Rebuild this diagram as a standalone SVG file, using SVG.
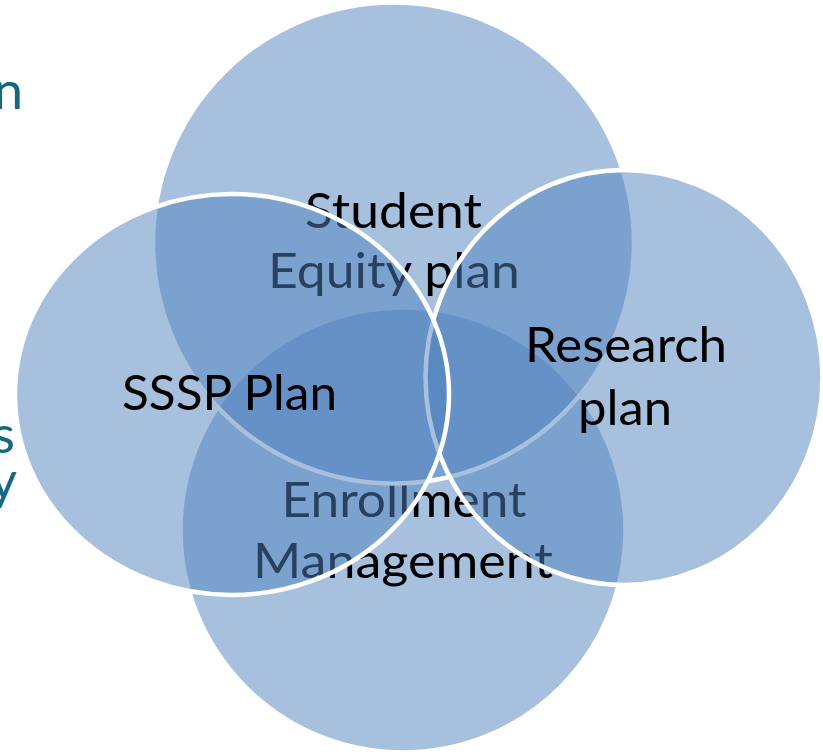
<svg xmlns="http://www.w3.org/2000/svg" width="823" height="754" viewBox="0 0 823 754">
  <style>
    .c { fill: #4F81BD; fill-opacity: 0.5; stroke: #FFFFFF; stroke-width: 4.5; }
    .t { font-family: Lato, "Open Sans", "Liberation Sans", sans-serif; font-size: 49px; fill: #000000; text-anchor: middle; }
    .side { font-family: Lato, "Open Sans", "Liberation Sans", sans-serif; font-size: 53px; fill: #14687F; text-anchor: end; }
  </style>
  <rect width="823" height="754" fill="#FFFFFF"/>
  <g id="side-text">
    <text class="side" x="23" y="109">n</text>
    <text class="side" x="15" y="453">s</text>
    <text class="side" x="17" y="499">y</text>
  </g>
  <g id="node-enrollment">
    <circle class="c" cx="403" cy="530" r="222.5"/>
    <text class="t" x="404" y="517" textLength="245" lengthAdjust="spacingAndGlyphs">Enrollment</text>
    <text class="t" x="403" y="578" textLength="300" lengthAdjust="spacingAndGlyphs">Management</text>
  </g>
  <g id="node-student">
    <circle class="c" cx="393.5" cy="243" r="240.5"/>
    <text class="t" x="393.5" y="228" textLength="177" lengthAdjust="spacingAndGlyphs">Student</text>
    <text class="t" x="394" y="288" textLength="252" lengthAdjust="spacingAndGlyphs">Equity plan</text>
  </g>
  <g id="node-research">
    <ellipse class="c" cx="624" cy="377.5" rx="198.5" ry="207.5"/>
    <text class="t" x="626" y="362" textLength="202" lengthAdjust="spacingAndGlyphs">Research</text>
    <text class="t" x="625" y="425" textLength="94" lengthAdjust="spacingAndGlyphs">plan</text>
  </g>
  <g id="node-sssp">
    <ellipse class="c" cx="232" cy="394.5" rx="217" ry="200.5"/>
    <text class="t" x="229.5" y="410" textLength="215" lengthAdjust="spacingAndGlyphs">SSSP Plan</text>
  </g>
  <g id="connectors"/>
</svg>
